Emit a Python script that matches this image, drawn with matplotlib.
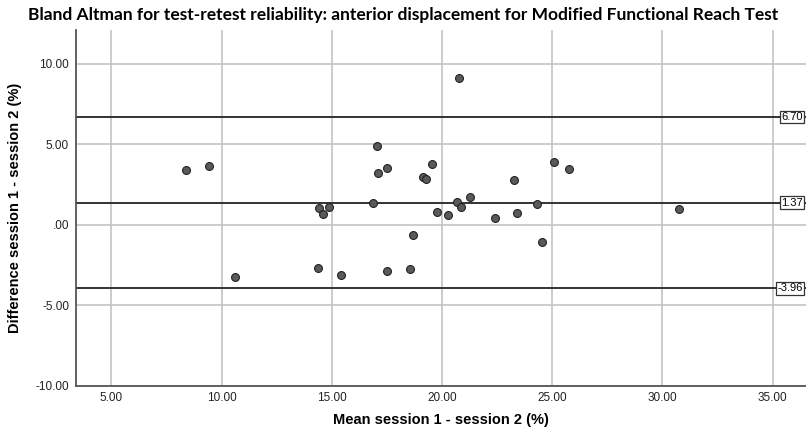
import matplotlib.pyplot as plt

# Datos (media y diferencia entre sesiones)
media = [8.38, 9.41, 10.60, 20.79, 17.06, 17.11, 17.52, 19.56, 19.15, 19.27,
         14.42, 14.86, 14.58, 16.85, 14.38, 15.42, 17.50, 18.55, 18.68, 19.77,
         20.27, 20.68, 20.86, 21.28, 22.42, 23.25, 23.39, 24.33, 24.55, 25.10,
         25.76, 30.74]
diferencia = [3.40, 3.68, -3.25, 9.15, 4.90, 3.20, 3.55, 3.76, 2.95, 2.85,
              1.07, 1.09, 0.64, 1.36, -2.71, -3.14, -2.85, -2.73, -0.66, 0.78,
              0.60, 1.40, 1.13, 1.75, 0.43, 2.79, 0.74, 1.26, -1.10, 3.92,
              3.45, 0.97]

# Sesgo medio y limites de concordancia
lineas_ref = [6.70, 1.37, -3.96]
etiquetas_ref = ["6.70", "1.37", "-3.96"]

x_ticks = [5, 10, 15, 20, 25, 30, 35]
y_ticks = [10, 5, 0, -5, -10]
y_tick_labels = ["10.00", "5.00", ".00", "-5.00", "-10.00"]

fig = plt.figure(figsize=(8.06, 4.37), dpi=100)
ax = fig.add_axes([0.0943, 0.1178, 0.9057, 0.8136])

ax.set_xlim(3.39, 36.52)
ax.set_ylim(-10, 12.11)

ax.set_xticks(x_ticks)
ax.set_xticklabels([f"{v:.2f}" for v in x_ticks])
ax.set_yticks(y_ticks)
ax.set_yticklabels(y_tick_labels)

ax.grid(True, color="#c4c4c4", linewidth=1.2)
ax.set_axisbelow(True)

for val, txt in zip(lineas_ref, etiquetas_ref):
    ax.axhline(val, color="#333333", linewidth=1.4, zorder=2)
    ax.text(36.38, val, txt, ha="right", va="center", fontsize=8,
            family="Liberation Sans", clip_on=False, zorder=4,
            bbox=dict(boxstyle="square,pad=0.12", fc="white", ec="#333333", lw=0.9))

ax.scatter(media, diferencia, s=32, color="#5a5a5a", edgecolors="#222222",
           linewidths=0.8, zorder=3)

for lado in ["top", "right"]:
    ax.spines[lado].set_visible(False)
for lado in ["left", "bottom"]:
    ax.spines[lado].set_color("#555555")
    ax.spines[lado].set_linewidth(1.3)

ax.tick_params(length=0, pad=5, labelsize=8.5, labelcolor="#222222")
for lab in ax.get_xticklabels() + ax.get_yticklabels():
    lab.set_family("Liberation Sans")

ax.set_xlabel("Mean session 1 - session 2 (%)", fontsize=10.5, fontweight="bold",
              family="Liberation Sans", labelpad=6)
ax.set_ylabel("Difference session 1 - session 2 (%)", fontsize=10.5, fontweight="bold",
              family="Liberation Sans", labelpad=10)

fig.text(0.5, 0.966, "Bland Altman for test-retest reliability: anterior displacement for Modified Functional Reach Test",
         ha="center", va="center", fontsize=12.5, fontweight="bold", family="Lato")

fig.savefig("out.png", dpi=100)
